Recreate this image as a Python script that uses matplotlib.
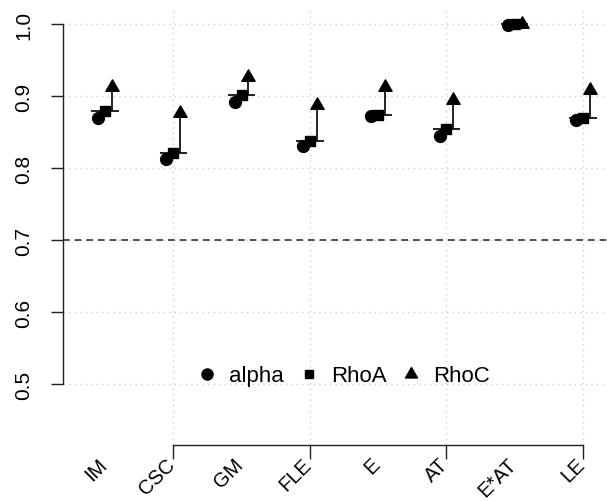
import matplotlib
matplotlib.use('Agg')
import matplotlib.pyplot as plt
import numpy as np
from matplotlib.path import Path
from matplotlib.lines import Line2D
from matplotlib.transforms import blended_transform_factory

categories = ['IM', 'CSC', 'GM', 'FLE', 'E', 'AT', 'E*AT', 'LE']
alpha = [0.870, 0.8125, 0.892, 0.831, 0.872, 0.845, 0.999, 0.866]
rho_a = [0.879, 0.821, 0.902, 0.837, 0.874, 0.854, 1.000, 0.870]
rho_c = [0.912, 0.876, 0.926, 0.8875, 0.913, 0.895, 1.000, 0.909]
y_ticks = [0.5, 0.6, 0.7, 0.8, 0.9, 1.0]
y_tick_labels = ['0.5', '0.6', '0.7', '0.8', '0.9', '1.0']
x_tick_positions = [2, 4, 6, 8]
threshold = 0.7
legend_labels = ['alpha', 'RhoA', 'RhoC']

plt.rcParams['font.family'] = ['Liberation Sans', 'DejaVu Sans']

W, H = 607, 502
fig = plt.figure(figsize=(W / 100, H / 100), dpi=100)
ax = fig.add_axes([63 / W, 56 / H, 1 - 63 / W, (495 - 56) / H])

x = np.arange(1, len(categories) + 1)
tri = Path([(0, 1.1547), (1, -0.57735), (-1, -0.57735), (0, 1.1547)],
           [Path.MOVETO, Path.LINETO, Path.LINETO, Path.CLOSEPOLY])

ax.set_xlim(0.385, 8.35)
ax.set_ylim(0.4153, 1.025)

# grid
ax.set_xticks(x_tick_positions)
ax.set_xticklabels([])
ax.set_yticks(y_ticks)
ax.set_yticklabels(y_tick_labels, rotation=90, va='center', fontsize=15)
ax.grid(True, color='#cfcfcf', linestyle=(0, (1, 3)), linewidth=1.0, zorder=0)
ax.set_axisbelow(True)

ax.axhline(threshold, color='#333333', linestyle=(0, (4, 3)), linewidth=1.2, zorder=1)

ax.hlines(rho_a, x - 0.2, x + 0.2, color='#111111', linewidth=1.3, zorder=2)
ax.vlines(x + 0.1, rho_a, rho_c, color='#111111', linewidth=1.3, zorder=2)

ax.plot(x - 0.1, alpha, linestyle='none', marker='o', markersize=8.5, color='black', zorder=3)
ax.plot(x, rho_a, linestyle='none', marker='s', markersize=7.0, color='black', zorder=3)
ax.plot(x + 0.1, rho_c, linestyle='none', marker=tri, markersize=11, color='black', zorder=3)

for s in ['top', 'right']:
    ax.spines[s].set_visible(False)
ax.spines['left'].set_bounds(0.5, 1.0)
ax.spines['bottom'].set_bounds(2, 8)
for s in ['left', 'bottom']:
    ax.spines[s].set_linewidth(1.0)
    ax.spines[s].set_color('#222222')
ax.tick_params(axis='y', length=8.6, width=1.0, pad=13, colors='#222222', labelcolor='black')
ax.tick_params(axis='x', length=10, width=1.0, colors='#222222')

trans = blended_transform_factory(ax.transData, fig.transFigure)
for xi, cat in zip(x, categories):
    ax.text(xi - 0.02, 40 / H, cat, rotation=45, ha='right', va='center',
            rotation_mode='anchor', fontsize=14.5, transform=trans, clip_on=False)

handles = [
    Line2D([], [], linestyle='none', marker='o', markersize=8.0, color='black'),
    Line2D([], [], linestyle='none', marker='s', markersize=5.8, color='black'),
    Line2D([], [], linestyle='none', marker=tri, markersize=10.0, color='black'),
]
ax.legend(handles, legend_labels, ncol=3, frameon=False, fontsize=16,
          loc='center', bbox_to_anchor=(344 / W, 125 / H), bbox_transform=fig.transFigure,
          handlelength=0.8, handletextpad=0.6, columnspacing=0.7, numpoints=1,
          borderpad=0, borderaxespad=0)

fig.savefig('out.png', dpi=100)
